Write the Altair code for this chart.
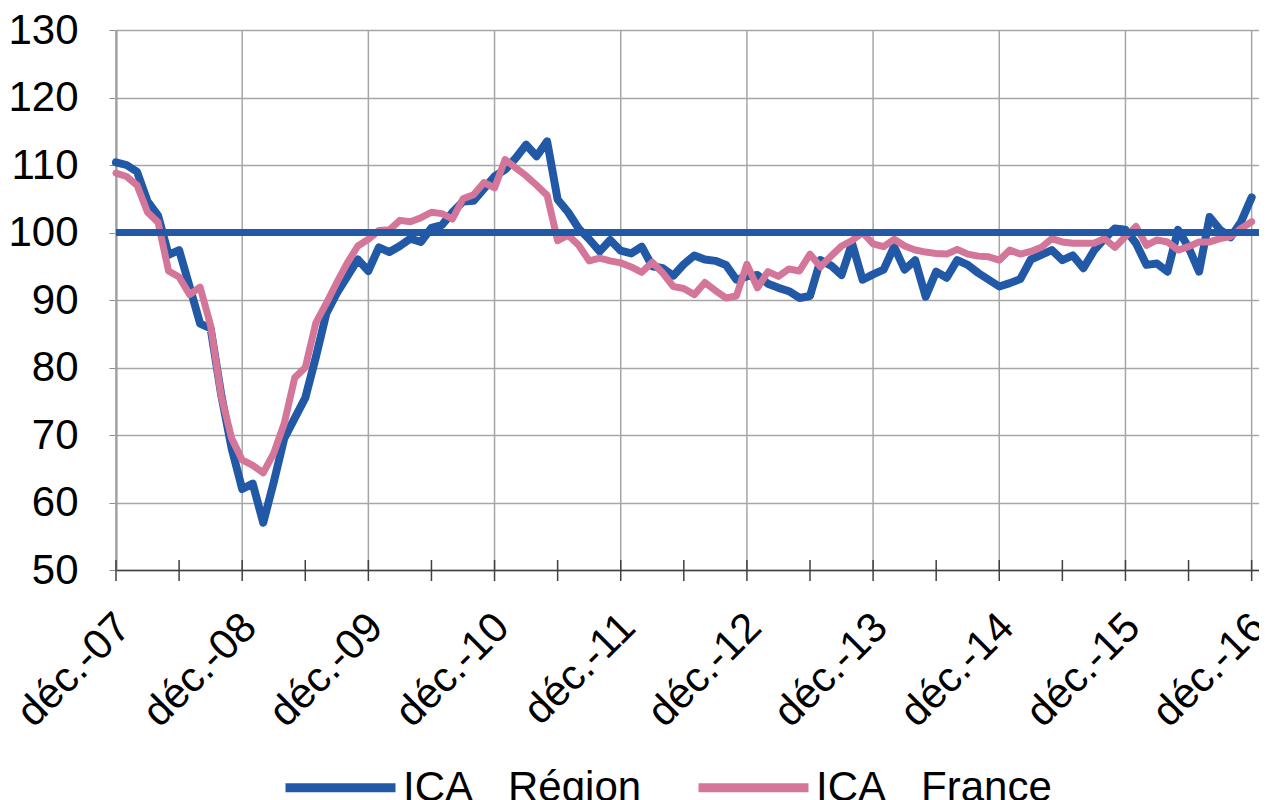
import json
import altair as alt
import pandas as pd

# ---- data ----
tick_labels = ["déc.-07", "déc.-08", "déc.-09", "déc.-10", "déc.-11",
               "déc.-12", "déc.-13", "déc.-14", "déc.-15", "déc.-16"]
y_ticks = [50, 60, 70, 80, 90, 100, 110, 120, 130]
series_names = ["ICA\u00a0\u00a0\u00a0Région", "ICA\u00a0\u00a0\u00a0France"]
ref_level = [100]

region = [110.4, 110.0, 109.0, 104.6, 102.5, 96.7, 97.4, 92.0, 86.5, 85.8,
          76.0, 68.0, 62.0, 62.8, 57.0, 63.0, 69.5, 72.5, 75.5, 81.5,
          88.0, 91.0, 93.5, 96.0, 94.3, 97.8, 97.1, 98.0, 99.1, 98.6,
          100.7, 101.1, 103.0, 104.6, 104.7, 106.5, 108.3, 109.3, 111.0, 113.0,
          111.3, 113.5, 104.9, 103.0, 100.6, 99.0, 97.2, 98.9, 97.3, 96.9,
          97.9, 95.0, 94.7, 93.6, 95.3, 96.6, 96.0, 95.8, 95.2, 93.0,
          93.5, 93.7, 92.4, 91.8, 91.3, 90.3, 90.6, 95.9, 95.1, 93.7,
          98.4, 93.0, 93.8, 94.5, 97.9, 94.5, 95.9, 90.5, 94.2, 93.3,
          95.9, 95.2, 94.0, 93.0, 92.0, 92.5, 93.1, 96.0, 96.7, 97.4,
          95.9, 96.6, 94.7, 97.3, 99.1, 100.6, 100.4, 98.4, 95.2, 95.4,
          94.2, 100.4, 97.8, 94.2, 102.3, 100.4, 99.3, 101.6, 105.2]

france = [108.8, 108.3, 107.0, 103.0, 101.5, 94.3, 93.4, 90.8, 91.9, 86.2,
          75.8, 69.5, 66.3, 65.5, 64.4, 67.3, 71.7, 78.5, 80.0, 86.6,
          89.5, 92.6, 95.5, 98.0, 99.0, 100.3, 100.4, 101.8, 101.6, 102.2,
          103.0, 102.8, 102.0, 105.0, 105.6, 107.4, 106.6, 110.8, 109.6, 108.4,
          107.0, 105.5, 98.8, 99.6, 98.1, 95.8, 96.2, 95.8, 95.5, 94.9,
          94.1, 95.6, 94.0, 92.0, 91.7, 90.8, 92.6, 91.4, 90.3, 90.6,
          95.3, 91.8, 94.2, 93.5, 94.6, 94.3, 96.8, 94.9, 96.5, 98.0,
          98.8, 100.0, 98.3, 97.9, 99.0, 98.0, 97.4, 97.1, 96.9, 96.8,
          97.5, 96.8, 96.5, 96.4, 95.9, 97.4, 96.8, 97.2, 97.8, 99.1,
          98.6, 98.4, 98.4, 98.4, 99.1, 97.8, 99.4, 100.9, 98.1, 98.9,
          98.6, 97.4, 97.9, 98.6, 98.6, 99.1, 99.4, 100.6, 101.6]

BLUE = "#2159A6"
PINK = "#D3769A"
GRID = "#A6A6A6"
FONT = "Liberation Sans"

n = len(region)
df = pd.DataFrame({
    "m": list(range(n)) * 2,
    "v": region + france,
    "s": [series_names[0]] * n + [series_names[1]] * n,
})
year_df = pd.DataFrame({"m": [12 * k for k in range(len(tick_labels))]})
half_df = pd.DataFrame({"m": list(range(0, 12 * (len(tick_labels) - 1) + 1, 6))})
ref_df = pd.DataFrame({"v": ref_level})

x_scale = alt.Scale(domain=[0, 108.7], nice=False, zero=False)
y_scale = alt.Scale(domain=[50, 130], nice=False, zero=False)
color_scale = alt.Scale(domain=series_names, range=[BLUE, PINK])

label_expr = ("datum.value % 12 === 0 ? " + json.dumps(tick_labels, ensure_ascii=False)
              + "[datum.value / 12] : ''")

x_axis = alt.Axis(values=list(half_df["m"]), labelExpr=label_expr, grid=False, ticks=False,
                  domainColor="#404040", domainWidth=1.5, labelAngle=315,
                  labelAlign="right", labelBaseline="middle", labelPadding=50,
                  labelOffset=7, labelFontSize=42, labelColor="black", labelFont=FONT,
                  title=None, labelOverlap=False)
y_axis = alt.Axis(values=y_ticks, grid=True, gridColor=GRID, gridWidth=1.5,
                  domainColor="#8C8C8C", domainWidth=2, tickColor="#8C8C8C", tickSize=7,
                  labelFontSize=42, labelColor="black", labelFont=FONT, labelPadding=31,
                  title=None)

legend = alt.Legend(orient="none", legendX=165, legendY=698, direction="horizontal",
                    title=None, symbolType="stroke", symbolStrokeWidth=9, symbolSize=12100,
                    labelFontSize=42, labelFont=FONT, labelColor="black", labelLimit=500,
                    labelOffset=3, columnPadding=38, padding=0)

vgrid = alt.Chart(year_df).mark_rule(color=GRID, strokeWidth=1.5).encode(
    x=alt.X("m:Q", scale=x_scale, axis=x_axis))

line_region = alt.Chart(df).transform_filter(
    alt.datum.s == series_names[0]).mark_line(strokeWidth=8, strokeJoin="round", strokeCap="round").encode(
    x=alt.X("m:Q", scale=x_scale, axis=x_axis),
    y=alt.Y("v:Q", scale=y_scale, axis=y_axis),
    color=alt.Color("s:N", scale=color_scale, legend=legend))

line_france = alt.Chart(df).transform_filter(
    alt.datum.s == series_names[1]).mark_line(strokeWidth=7, strokeJoin="round", strokeCap="round").encode(
    x=alt.X("m:Q", scale=x_scale, axis=x_axis),
    y=alt.Y("v:Q", scale=y_scale, axis=y_axis),
    color=alt.Color("s:N", scale=color_scale, legend=legend))

ref_line = alt.Chart(ref_df).mark_rule(color=BLUE, strokeWidth=7).encode(
    y=alt.Y("v:Q", scale=y_scale, axis=y_axis))

ticks = alt.Chart(half_df).mark_rule(color="#404040", strokeWidth=1.5).encode(
    x=alt.X("m:Q", scale=x_scale, axis=x_axis),
    y=alt.value(530), y2=alt.value(551))

chart = alt.layer(vgrid, line_region, line_france, ref_line, ticks).properties(
    width=1143, height=540,
    autosize=alt.AutoSizeParams(type="none"),
    padding={"left": 108, "top": 22, "right": 0, "bottom": 230},
).configure(font=FONT).configure_view(stroke=None)

chart.save("out.html", embed_options={"renderer": "svg", "actions": False})
